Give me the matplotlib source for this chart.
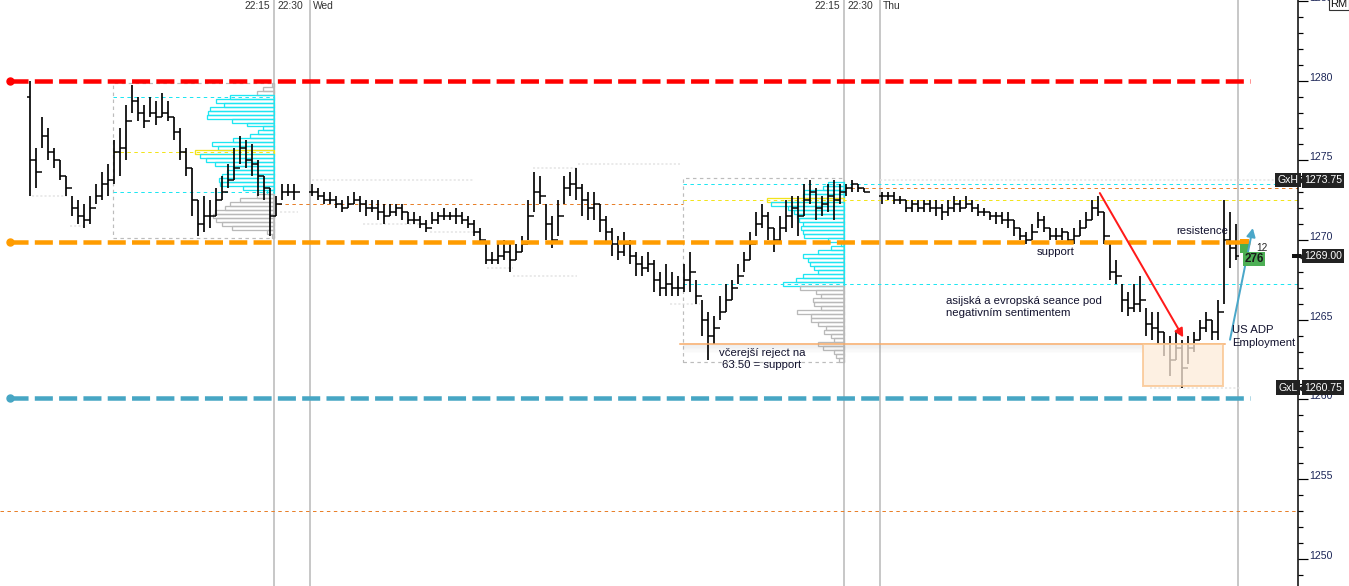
import numpy as np
import matplotlib
matplotlib.use("Agg")
import matplotlib.pyplot as plt
import matplotlib.transforms as mtrans
from matplotlib.patches import Rectangle, FancyArrowPatch

nan = float("nan")

# price bars (one slot per bar, nan = no trading)
highs = [1280.0, 1275.75, 1277.75, 1277.0, 1275.75, 1275.0, 1274.0, 1272.75, 1272.5, 1272.25,
         1272.75, 1273.5, 1274.25, 1274.75, 1276.25, 1277.0, 1278.5, 1279.75, 1279.0, 1278.5,
         1279.0, 1278.75, 1279.25, 1278.75, 1277.75, 1277.0, 1275.75, 1274.5, 1272.5, 1272.75,
         1272.5, 1273.25, 1274.0, 1274.75, 1275.75, 1276.5, 1276.25, 1276.0, 1275.0, 1274.0,
         1273.25, 1272.75, 1273.5, 1273.5, 1273.5, nan, nan, 1273.5, 1273.25, 1273.0,
         1273.0, 1272.75, 1272.5, 1272.75, 1273.0, 1272.75, 1272.5, 1272.5, 1272.5, 1272.25,
         1272.25, 1272.25, 1272.25, 1271.75, 1271.75, 1271.5, 1271.25, 1271.75, 1271.75, 1272.0,
         1271.75, 1272.0, 1271.75, 1271.5, 1271.25, 1270.75, 1269.75, 1269.25, 1269.75, 1270.0,
         1269.75, 1269.75, 1270.25, 1272.5, 1274.25, 1274.0, 1272.25, 1271.5, 1272.5, 1274.0,
         1274.25, 1274.5, 1273.5, 1273.0, 1273.0, 1272.25, 1271.5, 1270.75, 1270.25, 1270.5,
         1270.0, 1269.25, 1269.0, 1269.25, 1268.75, 1268.0, 1268.5, 1268.0, 1267.75, 1268.5,
         1269.25, 1267.5, 1266.25, 1265.5, 1265.25, 1266.5, 1267.25, 1267.5, 1268.5, 1269.25,
         1270.5, 1271.75, 1272.25, 1271.75, 1270.75, 1271.5, 1272.5, 1272.75, 1272.75, 1273.5,
         1273.75, 1273.25, 1272.75, 1273.5, 1273.75, 1273.5, 1273.5, 1273.75, 1273.5, 1273.25,
         nan, nan, 1273.0, 1273.0, 1273.0, 1272.75, 1272.5, 1272.5, 1272.5, 1272.5,
         1272.5, 1272.5, 1272.25, 1272.5, 1272.75, 1272.5, 1272.75, 1272.5, 1272.25, 1272.0,
         1271.75, 1271.75, 1271.75, 1271.75, 1271.25, 1270.75, 1270.5, 1271.0, 1271.75, 1271.5,
         1270.75, 1270.75, 1270.75, 1270.5, 1270.75, 1271.25, 1271.75, 1272.5, 1272.75, 1271.75,
         1269.75, 1268.75, 1267.25, 1266.75, 1267.25, 1267.75, 1265.75, 1265.5, 1265.5, 1264.25,
         1264.0, 1264.25, 1263.75, 1264.0, 1264.25, 1265.0, 1265.5, 1265.0, 1266.25, 1272.5,
         1271.75, 1271.0]
lows = [1272.75, 1273.25, 1275.75, 1275.0, 1274.5, 1273.75, 1272.75, 1271.5, 1271.0, 1270.75,
        1271.0, 1272.25, 1272.5, 1272.75, 1273.5, 1274.0, 1275.0, 1278.0, 1277.5, 1277.0,
        1277.75, 1277.25, 1277.75, 1277.5, 1276.25, 1275.0, 1274.0, 1271.5, 1270.25, 1270.5,
        1270.75, 1271.5, 1272.5, 1273.25, 1273.75, 1274.75, 1274.5, 1274.0, 1272.75, 1272.5,
        1270.25, 1271.5, 1272.5, 1272.75, 1272.5, nan, nan, 1272.75, 1272.5, 1272.25,
        1272.25, 1272.0, 1271.75, 1272.0, 1272.25, 1271.75, 1271.5, 1271.75, 1271.25, 1271.0,
        1271.5, 1271.5, 1271.25, 1271.0, 1271.0, 1270.75, 1270.5, 1271.0, 1271.0, 1271.25,
        1271.25, 1271.0, 1271.0, 1270.75, 1270.25, 1269.75, 1268.5, 1268.5, 1268.5, 1268.75,
        1268.0, 1268.75, 1269.25, 1270.0, 1271.75, 1272.25, 1270.0, 1269.5, 1270.25, 1272.25,
        1272.75, 1272.5, 1271.5, 1271.25, 1271.25, 1270.5, 1269.75, 1269.0, 1268.75, 1269.0,
        1268.5, 1267.75, 1267.75, 1268.0, 1266.75, 1266.5, 1266.5, 1266.5, 1266.5, 1266.75,
        1266.75, 1266.0, 1264.0, 1262.5, 1263.5, 1265.0, 1265.5, 1266.25, 1267.25, 1268.0,
        1268.75, 1270.25, 1270.75, 1270.0, 1269.25, 1269.75, 1270.5, 1270.75, 1270.25, 1271.5,
        1272.25, 1271.25, 1271.5, 1271.75, 1271.25, 1272.25, 1272.75, 1273.0, 1273.0, 1273.0,
        nan, nan, 1272.25, 1272.5, 1272.25, 1272.25, 1271.75, 1271.75, 1271.75, 1271.75,
        1271.75, 1271.5, 1271.25, 1271.5, 1271.75, 1271.75, 1272.0, 1271.75, 1271.5, 1271.5,
        1271.25, 1271.0, 1271.0, 1270.75, 1270.25, 1270.0, 1269.75, 1270.0, 1270.75, 1270.5,
        1270.0, 1270.0, 1270.0, 1269.75, 1269.75, 1270.25, 1270.75, 1271.25, 1271.5, 1269.75,
        1267.5, 1267.25, 1265.5, 1265.25, 1265.5, 1265.5, 1264.0, 1263.75, 1263.5, 1262.75,
        1261.5, 1262.5, 1260.75, 1262.25, 1263.0, 1263.75, 1264.25, 1263.75, 1263.75, 1266.0,
        1268.25, 1268.75]
closes = [1275.0, 1274.25, 1276.5, 1275.5, 1275.0, 1274.0, 1273.25, 1272.0, 1271.5, 1271.25,
          1272.0, 1272.75, 1273.5, 1273.75, 1275.5, 1275.75, 1277.5, 1278.75, 1278.0, 1277.5,
          1278.0, 1277.75, 1278.0, 1277.75, 1276.75, 1275.5, 1274.5, 1272.5, 1271.0, 1271.5,
          1271.5, 1272.5, 1273.0, 1273.75, 1274.5, 1275.75, 1275.0, 1274.75, 1274.0, 1273.25,
          1271.5, 1272.25, 1273.0, 1273.0, 1273.0, nan, nan, 1273.0, 1272.75, 1272.5,
          1272.5, 1272.25, 1272.0, 1272.25, 1272.5, 1272.25, 1272.0, 1272.0, 1271.75, 1271.5,
          1271.75, 1272.0, 1271.75, 1271.25, 1271.25, 1271.0, 1270.75, 1271.25, 1271.5, 1271.5,
          1271.5, 1271.5, 1271.25, 1271.0, 1270.5, 1270.0, 1268.75, 1268.75, 1269.0, 1269.25,
          1268.75, 1269.25, 1269.75, 1271.5, 1273.0, 1272.75, 1271.0, 1270.0, 1271.5, 1273.25,
          1273.5, 1273.25, 1272.5, 1272.0, 1272.25, 1271.25, 1270.5, 1269.75, 1269.25, 1269.75,
          1269.0, 1268.5, 1268.25, 1268.5, 1267.5, 1267.0, 1267.25, 1267.0, 1267.0, 1267.5,
          1268.0, 1266.5, 1265.0, 1264.0, 1264.5, 1265.5, 1266.25, 1267.0, 1267.75, 1268.75,
          1269.75, 1271.0, 1271.5, 1270.75, 1270.0, 1270.75, 1271.5, 1272.0, 1271.5, 1272.5,
          1273.0, 1272.0, 1272.25, 1272.75, 1272.5, 1273.0, 1273.25, 1273.5, 1273.25, 1273.0,
          nan, nan, 1272.75, 1272.75, 1272.5, 1272.5, 1272.0, 1272.25, 1272.0, 1272.25,
          1272.0, 1272.0, 1271.75, 1272.0, 1272.25, 1272.0, 1272.25, 1272.0, 1271.75, 1271.75,
          1271.5, 1271.5, 1271.25, 1271.25, 1270.75, 1270.25, 1270.0, 1270.5, 1271.25, 1270.75,
          1270.25, 1270.25, 1270.5, 1270.0, 1270.25, 1270.75, 1271.25, 1272.0, 1271.75, 1270.25,
          1268.0, 1267.75, 1266.25, 1265.75, 1266.0, 1266.25, 1264.75, 1264.5, 1264.25, 1263.5,
          1262.5, 1263.25, 1262.0, 1263.25, 1263.75, 1264.5, 1265.0, 1264.25, 1265.5, 1270.0,
          1269.5, 1269.0]

# session breaks (in bar slots) and the labels printed at the top
session_lines = [40.67, 46.67, 135.67, 141.67, 201.33]
session_labels = [("22:15", "22:30", "Wed"), ("22:15", "22:30", "Thu")]

# volume profiles, 0.25 rows from the top price down
prof1_top = 1279.75
prof1_vol = [2, 11, 17, 44, 58, 50, 64, 66, 67, 42, 27, 11, 16, 24, 41, 62, 56, 79, 74, 68,
             59, 41, 47, 52, 55, 54, 31, 7, 17, 34, 44, 49, 59, 61, 58, 52, 42, 7, 2]
prof1_va = (1279.0, 1273.0)
prof1_bars = (14, 40)
prof2_top = 1273.5
prof2_vol = [16, 21, 40, 41, 77, 73, 56, 50, 47, 45, 41, 43, 41, 40, 16, 3, 13, 26, 41, 36,
             34, 30, 26, 41, 48, 61, 44, 28, 23, 31, 30, 23, 47, 33, 33, 26, 18, 20, 13, 10,
             26, 21, 10, 8, 5]
prof2_va = (1273.5, 1267.25)
prof2_bars = (109, 135)

# levels
red_level = 1280.0
orange_level = 1269.9
blue_level = 1260.1
reject_level = 1263.5
prev_close_1 = 1272.25
prev_close_2 = 1273.25
lower_ref = 1253.0
gx_high = 1273.75
gx_low = 1260.75
last_price = 1269.00

# faint untested levels: (price, from slot, to slot)
naked = [(1272.75, 0.3, 6.1), (1270.9, 6.7, 9.5), (1271.75, 41.7, 44.7), (1273.75, 47, 74),
         (1271.0, 55.5, 66.7), (1270.5, 66.7, 75), (1268.25, 76.2, 80.5), (1267.75, 80.5, 91.2),
         (1274.5, 83.8, 91.2), (1274.75, 91.3, 108.3), (1266.0, 106.7, 111.7),
         (1273.75, 141.7, 211), (1260.75, 186.7, 201.7)]

# arrows: (x0, y0, x1, y1)
red_arrow = (178.3, 1272.95, 192.2, 1263.9)
blue_arrow = (200.0, 1263.75, 203.8, 1270.75)

W, H = 1349, 586
plt.rcParams['font.family'] = ['Liberation Sans', 'DejaVu Sans']
plt.rcParams['lines.scale_dashes'] = False

fig = plt.figure(figsize=(W / 100, H / 100), dpi=100)
ax = fig.add_axes([0, 0, 1298 / W, 1])
ax.set_xlim(-5, 211.33)
ax.set_ylim(1248.3, 1285.06)

px = 0.72  # one pixel in points
tcol = '#12122e'

# session separators
for s in session_lines:
    ax.axvline(s, color='#c8c8c8', lw=2 * px, zorder=1)

# faint levels
for p, a, b in naked:
    ax.plot([a, b], [p, p], color='#e4e4e4', lw=1.5 * px, dashes=(1.5, 1.5), zorder=1)

# thin reference lines
ax.plot([41.3, 108.8], [prev_close_1] * 2, color='#e8802a', lw=px, dashes=(2.5, 2.5), zorder=2)
ax.plot([135.67, 212], [prev_close_2] * 2, color='#e8802a', lw=px, dashes=(2.5, 2.5), zorder=2)
ax.plot([-5, 212], [lower_ref] * 2, color='#e8802a', lw=px, dashes=(2.5, 2.5), zorder=2)


def profile(top, vols, va, bars, right, line_end):
    b0, b1 = bars
    hi = np.nanmax(highs[b0:b1 + 1])
    lo = np.nanmin(lows[b0:b1 + 1])
    left = b0 - 0.2
    ax.add_patch(Rectangle((left, lo - 0.125), right - left, hi - lo + 0.25, fill=False,
                           ec='#bcbcbc', lw=px * 1.2, ls=(0, (2.5, 2.5)), zorder=2))
    poc_i = int(np.argmax(vols))
    for k, v in enumerate(vols):
        p = top - 0.25 * k
        if k == poc_i:
            c = '#f2e41c'
        elif va[1] <= p <= va[0]:
            c = '#1ee6f2'
        else:
            c = '#b9b9b9'
        w = v / 6.0
        ax.add_patch(Rectangle((right - w, p - 0.125), w, 0.25, fill=False, ec=c,
                               lw=1.3 * px, zorder=3))
    for p, c in [(va[0], '#1ee6f2'), (va[1], '#1ee6f2'), (top - 0.25 * poc_i, '#f2e41c')]:
        ax.plot([left, line_end], [p, p], color=c, lw=px, dashes=(2.5, 2.5), zorder=2)


profile(prof1_top, prof1_vol, prof1_va, prof1_bars, session_lines[0], session_lines[0])
profile(prof2_top, prof2_vol, prof2_va, prof2_bars, session_lines[2], 212)

# OHLC bars
x = np.arange(len(highs))
hi = np.array(highs)
lo = np.array(lows)
cl = np.array(closes)
op = np.concatenate([[1279.0], cl[:-1]])
op = np.where(np.isnan(op), cl, op)
ax.vlines(x, lo, hi, color='black', lw=1.7 * px, zorder=5)
ax.hlines(op, x - 0.45, x, color='black', lw=1.5 * px, zorder=5)
ax.hlines(cl, x, x + 0.45, color='black', lw=1.5 * px, zorder=5)

# thick key levels
dash = (13, 4.5)
for lvl, c in [(red_level, '#ff0000'), (orange_level, '#ff9c00'), (blue_level, '#47a6c4')]:
    ax.plot([-3.33, 203.33], [lvl, lvl], color=c, lw=4.5 * px, dashes=dash,
            solid_capstyle='butt', zorder=6)
    ax.plot([-3.33], [lvl], 'o', color=c, ms=7 * px, zorder=7)

# reject line with its shadow and the box of the retest
for k in range(6):
    ax.fill_between([108.8, 185.5], reject_level - 0.06 - 0.09 * (k + 1),
                    reject_level - 0.06 - 0.09 * k, color='#9a9a9a',
                    alpha=0.16 * (1 - k / 6), lw=0, zorder=4)
ax.plot([108.3, 199.2], [reject_level] * 2, color='#f6a864', lw=1.5 * px, zorder=6)
ax.add_patch(Rectangle((185.5, gx_low + 0.1), 13.33, reject_level - gx_low - 0.1,
                       fc='#fdebd9', ec='#f9c28a', lw=2 * px, alpha=0.75, zorder=8))

# arrows
for (x0, y0, x1, y1), c in [(red_arrow, '#ff1a1a'), (blue_arrow, '#4aa7c9')]:
    ax.add_patch(FancyArrowPatch((x0, y0), (x1, y1), arrowstyle='-|>,head_length=5,head_width=2.6',
                                 color=c, lw=2 * px, zorder=9, shrinkA=0, shrinkB=0))

# annotations
fs = 8.2
ax.text(122, 1262.54, "včerejší reject na\n63.50 = support", ha='center', va='center',
        fontsize=fs, color=tcol, linespacing=1.3, zorder=10)
ax.text(171, 1269.25, "support", ha='center', va='center', fontsize=fs, color=tcol, zorder=10)
ax.text(152.7, 1265.8, "asijská a evropská seance pod\nnegativním sentimentem", ha='left',
        va='center', fontsize=fs, color=tcol, linespacing=1.3, zorder=10)
ax.text(195.3, 1270.55, "resistence", ha='center', va='center', fontsize=fs, color=tcol, zorder=10)
ax.text(200.3, 1263.95, "US ADP\nEmployment", ha='left', va='center', fontsize=fs, color=tcol,
        linespacing=1.3, zorder=10, clip_on=False)

# live volume markers near the last price
ax.add_patch(Rectangle((201.7, 1269.75), 1.4, 0.3, fc='#ff9c00', ec='none', zorder=7))
ax.add_patch(Rectangle((201.7, 1269.2), 1.4, 0.55, fc='#4caf50', ec='none', zorder=7))
ax.text(205.3, 1269.5, "12", ha='center', va='center', fontsize=7.2, color='#222222', zorder=10)
ax.text(204.0, 1268.8, "276", ha='center', va='center', fontsize=8.5, color='#1a1a1a',
        fontweight='bold', zorder=10,
        bbox=dict(boxstyle='square,pad=0.1', fc='#4daf55', ec='none'))

# right price axis
for side in ['left', 'top', 'bottom']:
    ax.spines[side].set_visible(False)
ax.spines['right'].set_color('black')
ax.spines['right'].set_linewidth(1.5 * px)
ax.set_xticks([])
ax.yaxis.set_ticks_position('right')
ax.set_yticks(np.arange(1250, 1286, 5))
ax.set_yticks(np.arange(1249, 1286, 1), minor=True)
ax.tick_params(axis='y', which='major', length=10 * px, width=1.2 * px, color='black',
               labelright=False, labelleft=False)
ax.tick_params(axis='y', which='minor', length=5 * px, width=1.2 * px, color='black')

trans = mtrans.blended_transform_factory(fig.transFigure, ax.transData)
lab_trans = mtrans.offset_copy(trans, fig=fig, x=0, y=3, units='dots')
for t in range(1250, 1286, 5):
    ax.text(1309 / W, t, str(t), transform=lab_trans, ha='left', va='center', fontsize=7.6,
            color='#1d2758', clip_on=False)


def tag(price, text, name=None):
    ax.text(1304 / W, price, text, transform=trans, ha='left', va='center', fontsize=7.6,
            color='white', clip_on=False, zorder=12,
            bbox=dict(boxstyle='square,pad=0.22', fc='#222222', ec='none'))
    ax.plot([1300.5 / W], [price], marker='<', ms=7 * px, color='#222222', transform=trans,
            clip_on=False, zorder=12)
    if name:
        ax.text(1288 / W, price, name, transform=trans, ha='center', va='center', fontsize=7.6,
                color='white', clip_on=False, zorder=12,
                bbox=dict(boxstyle='square,pad=0.2', fc='#222222', ec='none'))


tag(gx_high, f"{gx_high:.2f}", "GxH")
tag(last_price, f"{last_price:.2f}")
tag(gx_low, f"{gx_low:.2f}", "GxL")
ax.plot([1294 / W, 1299 / W], [last_price] * 2, color='#111111', lw=4 * px, transform=trans,
        clip_on=False, zorder=12)

fig.text(1339 / W, 1 - 4 / H, "RM", ha='center', va='center', fontsize=8, color='#111111',
         bbox=dict(boxstyle='square,pad=0.1', fc='white', ec='#333333', lw=0.8))

# time labels at the session breaks
top_trans = mtrans.blended_transform_factory(ax.transData, ax.transAxes)
for (a, b), labs in zip([(session_lines[0], session_lines[1]), (session_lines[2], session_lines[3])],
                        session_labels):
    ax.text(a - 0.6, 1 - 6 / H, labs[0], transform=top_trans, ha='right', va='center',
            fontsize=7.4, color='#333333')
    ax.text(a + 0.6, 1 - 6 / H, labs[1], transform=top_trans, ha='left', va='center',
            fontsize=7.4, color='#333333')
    ax.text(b + 0.5, 1 - 6 / H, labs[2], transform=top_trans, ha='left', va='center',
            fontsize=7.4, color='#333333')

fig.savefig("out.png", dpi=100, facecolor='white')
